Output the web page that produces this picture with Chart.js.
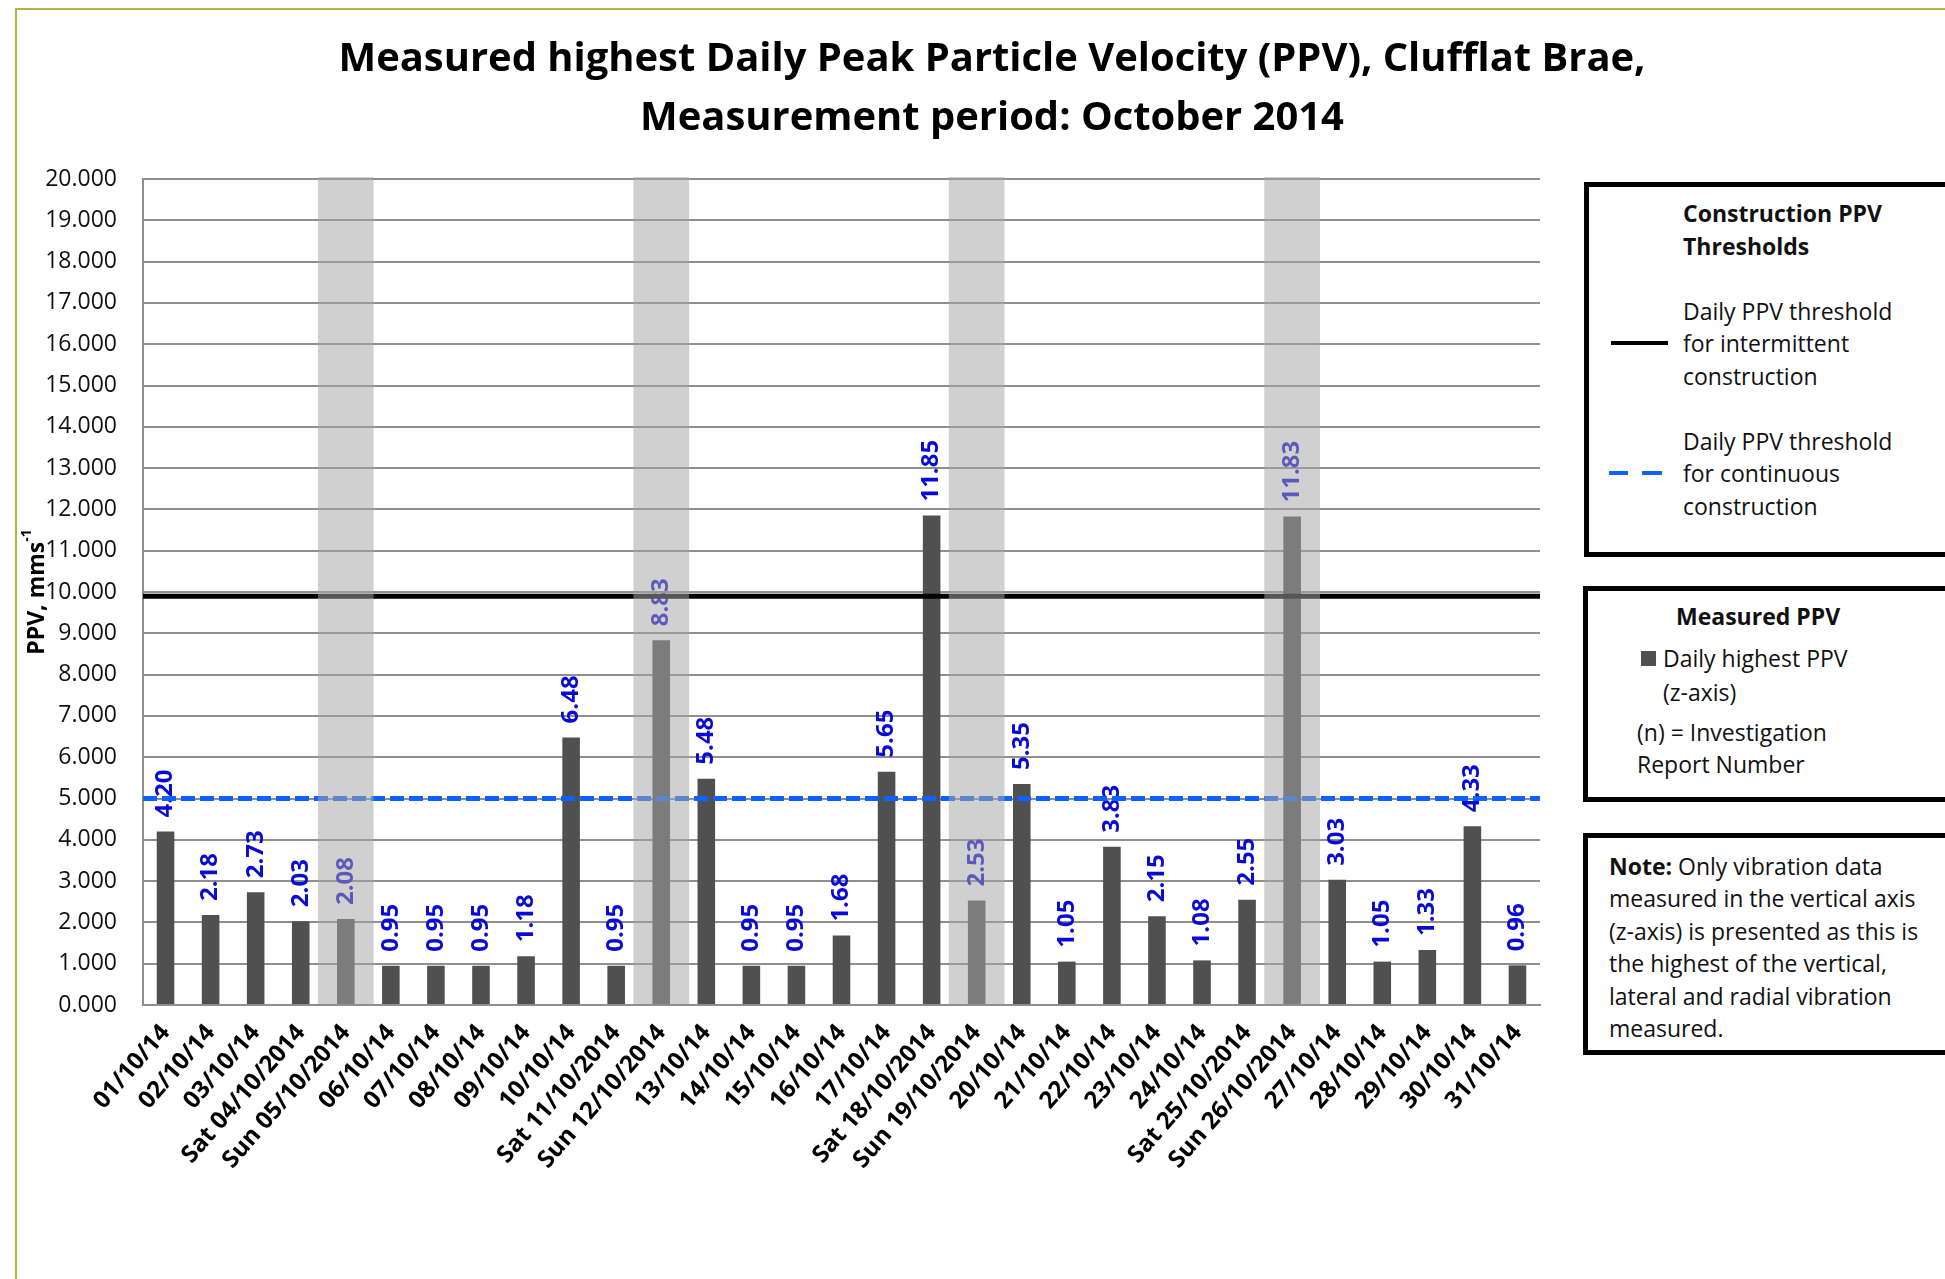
<!DOCTYPE html>
<html><head><meta charset="utf-8">
<script src="https://cdn.jsdelivr.net/npm/chart.js@4.4.1/dist/chart.umd.min.js"></script>
<style>
html,body{margin:0;padding:0;background:#fff;overflow:hidden;width:1945px;height:1279px;}
#wrap{position:relative;width:1945px;height:1279px;overflow:hidden;}
#frame{position:absolute;left:15px;top:8px;width:2100px;height:1500px;border:2px solid #b4b446;box-sizing:border-box;}
canvas{position:absolute;left:0;top:0;}
.box{position:absolute;border:5px solid #000;background:#fff;box-sizing:border-box;width:500px;}
.t{position:absolute;font-family:'Open Sans';font-size:23px;line-height:32px;height:32px;color:#111;white-space:nowrap;}
.b{font-weight:bold;}
.ln{position:absolute;height:4px;}
</style>
</head><body>
<div id="wrap">
<div id="frame"></div>
<canvas id="c" width="1945" height="1279"></canvas>

<div class="box" style="left:1584px;top:182px;height:375px;"></div>
<div class="box" style="left:1583px;top:586px;height:216px;"></div>
<div class="box" style="left:1583px;top:833px;height:222px;"></div>

<div class="t b" style="left:1683px;top:197px;">Construction PPV</div>
<div class="t b" style="left:1683px;top:230px;">Thresholds</div>
<div class="t" style="left:1683px;top:295px;">Daily PPV threshold</div>
<div class="t" style="left:1683px;top:327px;">for intermittent</div>
<div class="t" style="left:1683px;top:360px;">construction</div>
<div class="ln" style="left:1611px;top:341px;width:57px;background:#000;"></div>
<div class="t" style="left:1683px;top:425px;">Daily PPV threshold</div>
<div class="t" style="left:1683px;top:457px;">for continuous</div>
<div class="t" style="left:1683px;top:490px;">construction</div>
<div class="ln" style="left:1609px;top:471px;width:19px;background:#0b62ff;"></div>
<div class="ln" style="left:1642px;top:471px;width:20px;background:#0b62ff;"></div>

<div class="t b" style="left:1676px;top:600px;">Measured PPV</div>
<div style="position:absolute;left:1641px;top:651px;width:15px;height:15px;background:#505050;"></div>
<div class="t" style="left:1663px;top:642px;">Daily highest PPV</div>
<div class="t" style="left:1663px;top:676px;">(z-axis)</div>
<div class="t" style="left:1637px;top:716px;">(n) = Investigation</div>
<div class="t" style="left:1637px;top:748px;">Report Number</div>

<div class="t" style="left:1609px;top:850px;"><span class="b">Note:</span> Only vibration data</div>
<div class="t" style="left:1609px;top:882px;">measured in the vertical axis</div>
<div class="t" style="left:1609px;top:915px;">(z-axis) is presented as this is</div>
<div class="t" style="left:1609px;top:947px;">the highest of the vertical,</div>
<div class="t" style="left:1609px;top:980px;">lateral and radial vibration</div>
<div class="t" style="left:1609px;top:1012px;">measured.</div>
</div>
<script>
// ---- data ----
const categories = ['01/10/14','02/10/14','03/10/14','Sat 04/10/2014','Sun 05/10/2014','06/10/14','07/10/14','08/10/14','09/10/14','10/10/14','Sat 11/10/2014','Sun 12/10/2014','13/10/14','14/10/14','15/10/14','16/10/14','17/10/14','Sat 18/10/2014','Sun 19/10/2014','20/10/14','21/10/14','22/10/14','23/10/14','24/10/14','Sat 25/10/2014','Sun 26/10/2014','27/10/14','28/10/14','29/10/14','30/10/14','31/10/14'];
const dailyPPV = [4.20,2.18,2.73,2.03,2.08,0.95,0.95,0.95,1.18,6.48,0.95,8.83,5.48,0.95,0.95,1.68,5.65,11.85,2.53,5.35,1.05,3.83,2.15,1.08,2.55,11.83,3.03,1.05,1.33,4.33,0.96];
const shadedDays = ['Sun 05/10/2014','Sun 12/10/2014','Sun 19/10/2014','Sun 26/10/2014'];
const shadeRange = [0, 20.05];
const intermittentThreshold = 9.9;
const continuousThreshold = 5.0;
const yMin = 0, yMax = 20, yStep = 1;
const titleLines = ['Measured highest Daily Peak Particle Velocity (PPV), Clufflat Brae,', 'Measurement period: October 2014'];
const yTitle = 'PPV, mms';
const yTitleSup = '-1';

const shadeData = categories.map(c => shadedDays.includes(c) ? shadeRange : null);

const titlePlugin = {
  id: 'titleText',
  afterDraw(chart) {
    const ctx = chart.ctx;
    ctx.save();
    ctx.fillStyle = '#000';
    ctx.textAlign = 'center';
    ctx.textBaseline = 'middle';
    ctx.font = 'bold 40px "Open Sans"';
    const sx = 1307 / ctx.measureText(titleLines[0]).width;
    const ys = [60, 119];
    titleLines.forEach((t, i) => {
      ctx.save();
      ctx.translate(992, ys[i]);
      ctx.scale(sx, 1);
      ctx.fillText(t, 0, 0);
      ctx.restore();
    });
    // y-axis title
    const ca = chart.chartArea;
    ctx.save();
    ctx.translate(37, (ca.top + ca.bottom) / 2);
    ctx.rotate(-Math.PI / 2);
    ctx.font = 'bold 23px "Open Sans"';
    const w1 = ctx.measureText(yTitle).width;
    ctx.font = 'bold 14px "Open Sans"';
    const w2 = ctx.measureText(yTitleSup).width;
    const x0 = -(w1 + w2) / 2;
    ctx.textAlign = 'left';
    ctx.textBaseline = 'middle';
    ctx.font = 'bold 23px "Open Sans"';
    ctx.fillText(yTitle, x0, 0);
    ctx.font = 'bold 14px "Open Sans"';
    ctx.fillText(yTitleSup, x0 + w1, -10);
    ctx.restore();
    ctx.restore();
  }
};

const labelPlugin = {
  id: 'barLabels',
  afterDatasetDraw(chart, args) {
    if (args.meta.type !== 'bar' || chart.data.datasets[args.index].label !== 'Daily highest PPV (z-axis)') return;
    const ctx = chart.ctx;
    ctx.save();
    ctx.fillStyle = '#0a0ad8';
    ctx.font = 'bold 24px "Open Sans"';
    ctx.textAlign = 'left';
    ctx.textBaseline = 'middle';
    args.meta.data.forEach((el, i) => {
      ctx.save();
      ctx.translate(el.x, el.y - 14);
      ctx.rotate(-Math.PI / 2);
      ctx.fillText(dailyPPV[i].toFixed(2), 0, 0);
      ctx.restore();
    });
    ctx.restore();
  }
};

new Chart(document.getElementById('c'), {
  type: 'bar',
  data: {
    labels: categories,
    datasets: [
      {
        label: 'Weekend',
        data: shadeData,
        backgroundColor: 'rgba(164,164,164,0.52)',
        barPercentage: 1.236,
        categoryPercentage: 1,
        grouped: false,
        order: 0,
        clip: {left: 0, right: 0, top: 4, bottom: 0}
      },
      {
        type: 'line',
        label: 'Daily PPV threshold for intermittent construction',
        data: [{x: 0, y: intermittentThreshold}, {x: 1, y: intermittentThreshold}],
        xAxisID: 'xLine',
        borderColor: '#000',
        borderWidth: 5,
        pointRadius: 0,
        order: 1
      },
      {
        type: 'line',
        label: 'Daily PPV threshold for continuous construction',
        data: [{x: 0, y: continuousThreshold}, {x: 1, y: continuousThreshold}],
        xAxisID: 'xLine',
        borderColor: '#0b62ff',
        borderWidth: 5,
        borderDash: [14, 5],
        pointRadius: 0,
        order: 1
      },
      {
        label: 'Daily highest PPV (z-axis)',
        data: dailyPPV,
        backgroundColor: '#505050',
        barPercentage: 0.39,
        categoryPercentage: 1,
        grouped: false,
        order: 2
      }
    ]
  },
  options: {
    responsive: false,
    animation: false,
    events: [],
    layout: {padding: {left: 0, top: 179, right: 405, bottom: 0}},
    plugins: {legend: {display: false}, tooltip: {enabled: false}, title: {display: false}},
    scales: {
      x: {
        type: 'category',
        offset: true,
        grid: {display: false, drawTicks: false},
        border: {display: true, color: '#8f8f8f', width: 2},
        ticks: {
          autoSkip: false, minRotation: 49, maxRotation: 49,
          color: '#000', padding: 14,
          font: {family: 'Open Sans', weight: 'bold', size: 24}
        },
        afterFit(s) { s.height = 274; }
      },
      xLine: {type: 'linear', display: false, min: 0, max: 1, offset: false, grid: {offset: false}},
      y: {
        min: yMin, max: yMax,
        ticks: {stepSize: yStep, callback: v => v.toFixed(3), color: '#111', padding: 26,
          font: {family: 'Open Sans', size: 23}},
        grid: {color: '#8f8f8f', lineWidth: 2, drawTicks: false},
        border: {display: true, color: '#8f8f8f', width: 2},
        afterFit(s) { s.width = 143; }
      }
    }
  },
  plugins: [titlePlugin, labelPlugin]
});
</script>
</body></html>
